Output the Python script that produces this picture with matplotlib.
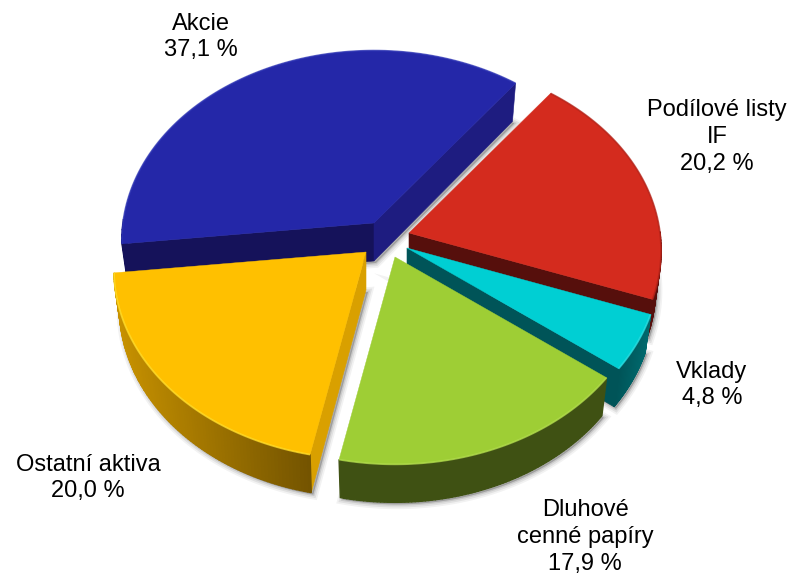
import numpy as np
import matplotlib
matplotlib.use("Agg")
import matplotlib.pyplot as plt
from matplotlib.patches import Polygon
from matplotlib.colors import to_rgb

plt.rcParams['font.family'] = ['Liberation Sans', 'DejaVu Sans']

# data, in drawing order (back to front)
names = ["Akcie", "Podílové listy\nIF", "Vklady", "Dluhové\ncenné papíry", "Ostatní aktiva"]
values = [37.1, 20.2, 4.8, 17.9, 20.0]

# look of the slices
tops = ["#2427A8", "#D42B1E", "#00CFD3", "#9ECE35", "#FFC000"]
rims = ["#2C33B4", "#B02218", "#30E0E4", "#B4DE50", "#FFE030"]
arc_left = ["#15125A", "#560F0C", "#005458", "#3F5113", "#C89200"]
arc_right = ["#15125A", "#560F0C", "#006A6E", "#3F5113", "#745400"]
side_first = ["#15125A", "#560F0C", "#005458", "#3F5113", "#D9A000"]
side_last = ["#1E1C80", "#560F0C", "#005458", "#3F5113", "#15125A"]

# layout in pixels: exploded apex of each slice and label centres
apex = [(374, 223), (409, 233), (407, 248), (395, 257), (366, 252)]
label_pos = [(201, 37), (717, 137), (712, 385), (585, 537), (88, 478)]
radius = 251
tilt = 0.75
persp = 0.092
depth = 38
shrink = 0.978  # the bottom face is a bit narrower, seen from above
start_angle = 186.3


def project(c, t):
    t = np.radians(t)
    d = 1 + persp * np.sin(t)
    return np.column_stack([c[0] + radius * np.cos(t) / d,
                            c[1] - radius * tilt * np.sin(t) / d])


fig = plt.figure(figsize=(7.95, 5.81), dpi=100)
ax = fig.add_axes([0, 0, 1, 1])
ax.set_xlim(0, 795)
ax.set_ylim(581, 0)
ax.axis("off")

angle = start_angle
for i, v in enumerate(values):
    # slices run clockwise from t0 to t1
    t0 = angle
    t1 = angle - v * 3.6
    angle = t1
    c = np.array(apex[i], dtype=float)
    ts = np.linspace(t0, t1, 90)
    arc = project(c, ts)
    top = np.vstack([c, arc])

    low_arc = arc.copy()
    low_arc[:, 0] = c[0] + (arc[:, 0] - c[0]) * shrink
    low_arc[:, 1] += depth
    low_c = c + np.array([0, depth])

    # soft shadow round the solid
    solid_low = np.vstack([low_c, low_arc]) + np.array([2, 2])
    for lw, a in [(7, 0.05), (4.5, 0.07), (2, 0.10)]:
        ax.add_patch(Polygon(solid_low, closed=True, facecolor=(0, 0, 0, a),
                             edgecolor=(0, 0, 0, a), lw=lw, zorder=i * 10))

    # flat sides, only when they face the viewer
    if np.sin(np.radians(t0 + 90)) < 0:
        quad = np.vstack([c, arc[0], low_arc[0], low_c])
        ax.add_patch(Polygon(quad, closed=True, fc=side_first[i], ec=side_first[i],
                             lw=0.4, zorder=i * 10 + 1))
    if np.sin(np.radians(t1 - 90)) < 0:
        quad = np.vstack([c, arc[-1], low_arc[-1], low_c])
        ax.add_patch(Polygon(quad, closed=True, fc=side_last[i], ec=side_last[i],
                             lw=0.4, zorder=i * 10 + 1))

    # curved wall, darker towards the right
    left = np.array(to_rgb(arc_left[i]))
    right = np.array(to_rgb(arc_right[i]))
    xmin, xmax = arc[:, 0].min(), arc[:, 0].max()
    for j in range(len(ts) - 1):
        if np.sin(np.radians(ts[j])) >= 0 and np.sin(np.radians(ts[j + 1])) >= 0:
            continue
        f = (arc[j, 0] - xmin) / max(xmax - xmin, 1)
        col = left + (right - left) * f
        quad = np.vstack([arc[j], arc[j + 1], low_arc[j + 1], low_arc[j]])
        ax.add_patch(Polygon(quad, closed=True, fc=col, ec=col, lw=1.0, zorder=i * 10 + 2))

    # top face and its bevelled rim
    ax.add_patch(Polygon(top, closed=True, fc=tops[i], ec=tops[i], lw=0.3, zorder=i * 10 + 3))
    ax.plot(arc[:, 0], arc[:, 1], color=rims[i], lw=1.3, alpha=0.7,
            solid_capstyle="butt", zorder=i * 10 + 4)

for name, v, (x, y) in zip(names, values, label_pos):
    pct = f"{v:.1f} %".replace(".", ",")
    ax.text(x, y, f"{name}\n{pct}", ha="center", va="center", fontsize=17,
            linespacing=1.27, color="black", zorder=100)

fig.savefig("out.png", dpi=100)
